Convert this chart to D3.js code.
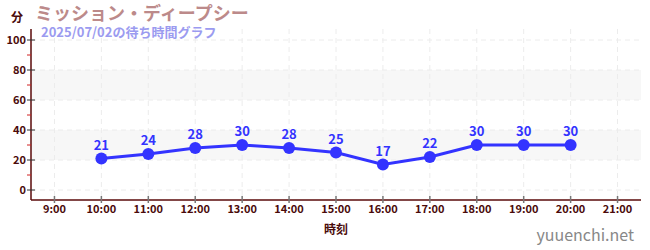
<!DOCTYPE html>
<html>
<head>
<meta charset="utf-8">
<script src="https://cdn.jsdelivr.net/npm/d3@7"></script>
<style>
body { margin: 0; background: #fff; }
text { font-family: "Noto Sans CJK JP", "Noto Sans", sans-serif; }
</style>
</head>
<body>
<div id="T"></div>
<script>
const hours = [10, 11, 12, 13, 14, 15, 16, 17, 18, 19, 20]
const waits = [21, 24, 28, 30, 28, 25, 17, 22, 30, 30, 30]
const xTicks = [9, 10, 11, 12, 13, 14, 15, 16, 17, 18, 19, 20, 21]
const yTicks = [0, 20, 40, 60, 80, 100]
const yMinor = [10, 30, 50, 70, 90]
const bands = [[20, 40], [60, 80]]

const width = 650, height = 250
const plotL = 31, plotR = 641, plotT = 29, plotB = 200

const SVG = d3.select('#T').append('svg')
    .attr("width", width)
    .attr("height", height)

const x = d3.scaleLinear().domain([8.5, 21.5]).range([plotL, plotR])
const y = d3.scaleLinear().domain([0, 100]).range([190, 40])

// bands
SVG.selectAll(".band").data(bands).enter().append("rect")
    .attr("x", plotL)
    .attr("width", plotR - plotL)
    .attr("y", d => y(d[1]))
    .attr("height", d => y(d[0]) - y(d[1]))
    .attr("fill", "#f7f7f7")

// grid
SVG.selectAll(".hg").data(yTicks).enter().append("line")
    .attr("x1", plotL).attr("x2", plotR)
    .attr("y1", d => y(d)).attr("y2", d => y(d))
    .attr("stroke", "#ececec").attr("stroke-dasharray", "5,4")
SVG.selectAll(".vg").data(xTicks).enter().append("line")
    .attr("x1", d => x(d)).attr("x2", d => x(d))
    .attr("y1", plotT).attr("y2", plotB)
    .attr("stroke", "#ececec").attr("stroke-dasharray", "5,4")

// y axis
SVG.append("line")
    .attr("x1", plotL).attr("x2", plotL).attr("y1", plotT).attr("y2", plotB)
    .attr("stroke", "#5a0a0a").attr("stroke-width", 1.5)
SVG.selectAll(".ym").data(yMinor).enter().append("line")
    .attr("x1", plotL - 4).attr("x2", plotL)
    .attr("y1", d => y(d)).attr("y2", d => y(d))
    .attr("stroke", "#d02020")
SVG.selectAll(".yt").data(yTicks).enter().append("line")
    .attr("x1", plotL - 4).attr("x2", plotL + 4)
    .attr("y1", d => y(d)).attr("y2", d => y(d))
    .attr("stroke", "#333")
SVG.selectAll(".yl").data(yTicks).enter().append("text")
    .attr("x", plotL - 5).attr("y", d => y(d) + 4)
    .attr("text-anchor", "end")
    .attr("fill", "#4a0a0a")
    .style("font-size", "11px").style("font-weight", "bold")
    .text(d => d)

// x axis
SVG.append("line")
    .attr("x1", plotL).attr("x2", plotR).attr("y1", plotB).attr("y2", plotB)
    .attr("stroke", "#5a0a0a").attr("stroke-width", 1.5)
SVG.selectAll(".xt").data(xTicks).enter().append("line")
    .attr("x1", d => x(d)).attr("x2", d => x(d))
    .attr("y1", plotB - 4).attr("y2", plotB + 3)
    .attr("stroke", "#777").attr("stroke-width", 1.5)
SVG.selectAll(".xl").data(xTicks).enter().append("text")
    .attr("x", d => x(d)).attr("y", plotB + 13)
    .attr("text-anchor", "middle")
    .attr("fill", "#4a0a0a")
    .style("font-size", "11px").style("font-weight", "bold")
    .text(d => d + ":00")

// line + points
const pts = hours.map((h, i) => [h, waits[i]])
SVG.append("path")
    .datum(pts)
    .attr("d", d3.line().x(d => x(d[0])).y(d => y(d[1])))
    .attr("fill", "none")
    .attr("stroke", "#3333ff")
    .attr("stroke-width", 3)
SVG.selectAll(".pt").data(pts).enter().append("circle")
    .attr("cx", d => x(d[0])).attr("cy", d => y(d[1]))
    .attr("r", 6)
    .attr("fill", "#3333ff")
SVG.selectAll(".pl").data(pts).enter().append("text")
    .attr("x", d => x(d[0])).attr("y", d => y(d[1]) - 9)
    .attr("text-anchor", "middle")
    .attr("fill", "#3333ff")
    .style("font-size", "13px").style("font-weight", "bold")
    .text(d => d[1])

// texts
SVG.append("text").attr("x", 17).attr("y", 22).attr("text-anchor", "middle")
    .attr("fill", "#4a0a0a").style("font-size", "12px").style("font-weight", "bold")
    .text("分")
SVG.append("text").attr("x", 35).attr("y", 20)
    .attr("fill", "#bc8a8a").style("font-size", "18px").style("font-weight", "bold")
    .text("ミッション・ディープシー")
SVG.append("text").attr("x", 41).attr("y", 37)
    .attr("fill", "#9b9bf0").style("font-size", "13px").style("font-weight", "bold")
    .text("2025/07/02の待ち時間グラフ")
SVG.append("text").attr("x", 336).attr("y", 234).attr("text-anchor", "middle")
    .attr("fill", "#4a0a0a").style("font-size", "12px").style("font-weight", "bold")
    .text("時刻")
SVG.append("text").attr("x", 634).attr("y", 241).attr("text-anchor", "end")
    .attr("fill", "#888").style("font-size", "16px")
    .text("yuuenchi.net")
</script>
</body>
</html>
